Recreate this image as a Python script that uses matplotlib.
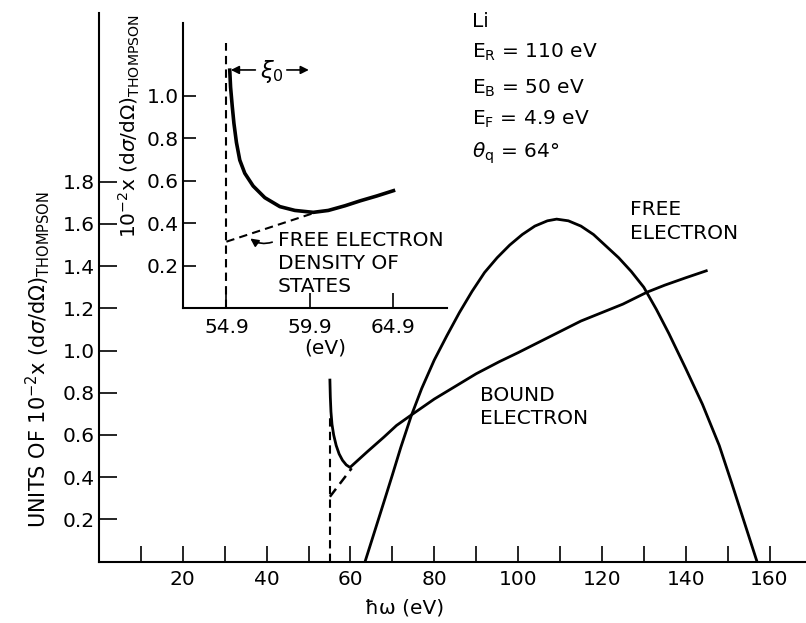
import matplotlib
matplotlib.use('Agg')
import matplotlib.pyplot as plt

# main panel data (hbar omega in eV, units of 1e-2 x Thompson)
free_x = [63.5, 66, 68, 70, 72, 74.5, 77, 80, 83, 86, 89, 92, 95, 98, 101, 104, 107, 109.2,
          112, 115, 118, 121, 124, 127, 130, 133, 136, 140, 144, 148, 151, 154, 157]
free_y = [0.0, 0.157, 0.283, 0.41, 0.54, 0.69, 0.82, 0.955, 1.07, 1.18, 1.28, 1.37, 1.44, 1.50,
          1.55, 1.59, 1.615, 1.623, 1.615, 1.59, 1.55, 1.495, 1.44, 1.375, 1.30, 1.195, 1.08,
          0.915, 0.745, 0.55, 0.37, 0.185, 0.0]

bound_x = [55.1, 55.2, 55.35, 55.6, 56.0, 56.6, 57.3, 58.1, 59.0, 59.9, 64, 68, 71, 74.2, 80,
           85, 90, 95.5, 100, 105, 110, 115, 120, 125, 130.8, 135, 140, 144.9]
bound_y = [0.86, 0.78, 0.71, 0.65, 0.60, 0.55, 0.51, 0.48, 0.458, 0.446, 0.52, 0.59, 0.645,
           0.69, 0.77, 0.83, 0.89, 0.947, 0.99, 1.04, 1.09, 1.14, 1.18, 1.22, 1.277, 1.31,
           1.345, 1.378]

dos_x = [55.1, 60.3]
dos_y = [0.307, 0.442]
edge_x = [55.1, 55.1]
edge_y = [0.0, 0.70]

main_xticks = [10, 20, 30, 40, 50, 60, 70, 80, 90, 100, 110, 120, 130, 140, 150, 160]
main_xlabels = ['', '20', '', '40', '', '60', '', '80', '', '100', '', '120', '', '140', '', '160']
main_yticks = [0.2, 0.4, 0.6, 0.8, 1.0, 1.2, 1.4, 1.6, 1.8]

# inset data (zoom on the edge)
inset_x = [55.1, 55.15, 55.25, 55.35, 55.5, 55.7, 56.0, 56.5, 57.2, 58.1, 59.0, 60.1,
           61.0, 62.0, 62.9, 63.9, 64.9]
inset_y = [1.12, 1.04, 0.95, 0.87, 0.78, 0.697, 0.635, 0.575, 0.52, 0.478, 0.46, 0.451,
           0.46, 0.482, 0.505, 0.528, 0.553]
inset_dos_x = [54.9, 60.1]
inset_dos_y = [0.313, 0.447]
inset_edge_x = [54.9, 54.9]
inset_edge_y = [0.0, 1.25]
inset_xticks = [54.9, 59.9, 64.9]
inset_yticks = [0.2, 0.4, 0.6, 0.8, 1.0]

params = ['Li', r'E$_\mathrm{R}$ = 110 eV', r'E$_\mathrm{B}$ = 50 eV',
          r'E$_\mathrm{F}$ = 4.9 eV', r'$\theta_\mathrm{q}$ = 64°']
params_y = [2.533, 2.39, 2.219, 2.069, 1.912]

FS = 14.5
dash = (0, (4, 2.5))

fig = plt.figure(figsize=(8.06, 6.23), dpi=100)
ax = fig.add_axes([0.1228, 0.0987, 0.8772, 0.8804])
ax.set_xlim(0, 168.7)
ax.set_ylim(0, 2.6)
for s in ['top', 'right']:
    ax.spines[s].set_visible(False)
for s in ['left', 'bottom']:
    ax.spines[s].set_linewidth(1.5)

ax.plot(free_x, free_y, color='black', lw=2.0)
ax.plot(bound_x, bound_y, color='black', lw=2.0)
ax.plot(dos_x, dos_y, color='black', lw=1.8, linestyle=dash)
ax.plot(edge_x, edge_y, color='black', lw=1.5, linestyle=dash)

ax.set_xticks(main_xticks)
ax.set_xticklabels(main_xlabels)
ax.set_yticks(main_yticks)
ax.set_yticklabels([f'{v:.1f}' for v in main_yticks])
ax.tick_params(axis='x', direction='in', length=11.5, width=1.2, pad=6, labelsize=FS)
ax.tick_params(axis='y', direction='in', length=13, width=1.2, pad=3, labelsize=FS)

ax.text(-14.6, 0.955, r'UNITS OF 10$^{-2}$x (d$\sigma$/d$\Omega$)$_\mathrm{THOMPSON}$',
        rotation=90, ha='center', va='center', fontsize=FS + 0.5)
ax.text(73, -0.22, 'ħω (eV)', ha='center', va='center', fontsize=FS, clip_on=False)

for txt, yv in zip(params, params_y):
    ax.text(89.0, yv, txt, ha='left', va='baseline', fontsize=FS)

ax.text(126.7, 1.713, 'FREE\nELECTRON', ha='left', va='top', fontsize=FS, linespacing=1.3)
ax.text(90.9, 0.832, 'BOUND\nELECTRON', ha='left', va='top', fontsize=FS, linespacing=1.3)

# inset
ins = fig.add_axes([0.2270, 0.5053, 0.3275, 0.4578])
ins.set_facecolor('none')
ins.set_xlim(52.3, 68.1)
ins.set_ylim(0, 1.342)
for s in ['top', 'right']:
    ins.spines[s].set_visible(False)
for s in ['left', 'bottom']:
    ins.spines[s].set_linewidth(1.5)

ins.plot(inset_x, inset_y, color='black', lw=2.6)
ins.plot(inset_dos_x, inset_dos_y, color='black', lw=1.5, linestyle=dash)
ins.plot(inset_edge_x, inset_edge_y, color='black', lw=1.5, linestyle=dash)

ins.set_xticks(inset_xticks)
ins.set_xticklabels([f'{v:.1f}' for v in inset_xticks])
ins.set_yticks(inset_yticks)
ins.set_yticklabels([f'{v:.1f}' for v in inset_yticks])
ins.tick_params(axis='x', direction='in', length=11, width=1.2, pad=7, labelsize=FS)
ins.tick_params(axis='y', direction='in', length=9.5, width=1.2, pad=3, labelsize=FS)

ins.text(49.1, 0.857, r'10$^{-2}$x (d$\sigma$/d$\Omega$)$_\mathrm{THOMPSON}$',
         rotation=90, ha='center', va='center', fontsize=FS)
ins.text(60.8, -0.187, '(eV)', ha='center', va='center', fontsize=FS, clip_on=False)

# xi_0 arrows
ins.annotate('', xy=(55.0, 1.121), xytext=(56.8, 1.121),
             arrowprops=dict(arrowstyle='-|>', color='black', lw=1.2, mutation_scale=12))
ins.annotate('', xy=(60.0, 1.121), xytext=(58.35, 1.121),
             arrowprops=dict(arrowstyle='-|>', color='black', lw=1.2, mutation_scale=12))
ins.text(57.6, 1.115, r'$\xi_0$', ha='center', va='center', fontsize=FS + 2)

# free electron DOS note
ins.text(57.98, 0.362, 'FREE ELECTRON\nDENSITY OF\nSTATES', ha='left', va='top',
         fontsize=FS, linespacing=1.25)
ins.annotate('', xy=(56.2, 0.336), xytext=(57.8, 0.315),
             arrowprops=dict(arrowstyle='-|>', color='black', lw=1.2, mutation_scale=12,
                             connectionstyle='arc3,rad=-0.3'))

fig.savefig('out.png', dpi=100)
